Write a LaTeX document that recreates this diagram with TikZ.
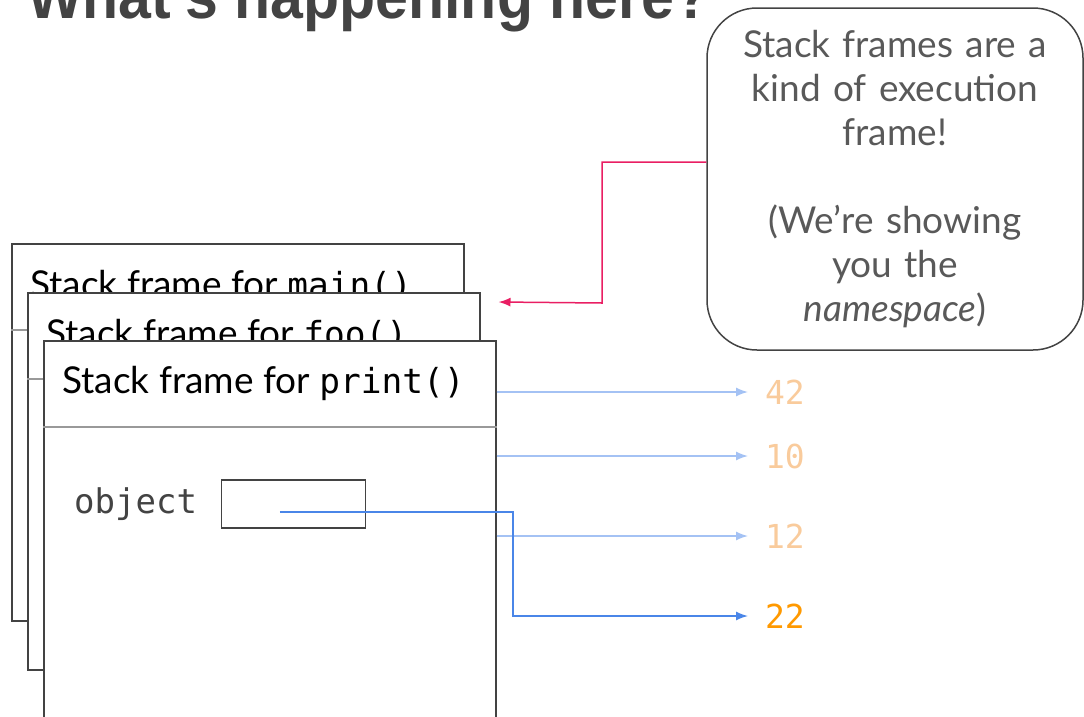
\documentclass[tikz,border=0pt]{standalone}
\usepackage{fontspec}
\usepackage{graphicx}
\setmainfont{Lato}
\setmonofont{DejaVu Sans Mono}
\newfontfamily\titlefont{Liberation Sans}
\usetikzlibrary{arrows.meta, positioning, calc}
\definecolor{framegray}{HTML}{434343}
\definecolor{sepgray}{HTML}{999999}
\definecolor{notegray}{HTML}{595959}
\definecolor{lightblue}{HTML}{A4C2F4}
\definecolor{ptrblue}{HTML}{4A86E8}
\definecolor{peach}{HTML}{F9CB9C}
\definecolor{orange}{HTML}{FF9900}
\definecolor{pink}{HTML}{E91E63}
\newcommand{\fncode}[1]{{\ttfamily\fontsize{34.5}{34.5}\selectfont #1}}
\tikzset{
	stackframe/.style={rectangle, draw=framegray, fill=white, line width=1.5pt, minimum width=452pt, minimum height=377pt, anchor=north west, inner sep=0pt},
	header/.style={anchor=west, inner sep=0pt, font=\fontsize{37}{37}\selectfont},
	headsep/.style={draw=sepgray, line width=1.5pt},
	valnode/.style={anchor=west, inner sep=0pt, outer sep=17pt, font=\ttfamily\fontsize{33}{33}\selectfont},
	callout/.style={rectangle, draw=framegray, line width=1.5pt, rounded corners=50pt, minimum width=376pt, minimum height=342pt, text width=366pt, align=center, text=notegray, font=\fontsize{37}{44}\selectfont},
	ptr/.style={draw, line width=1.5pt, -{Latex[length=12pt, width=9pt]}}
}

\begin{document}
\begin{tikzpicture}[x=1pt, y=-1pt]
	\useasboundingbox (0,0) rectangle (1084,716);
	\clip (0,0) rectangle (1084,716);
	% Title, cut off at the top
	\node[anchor=base west, inner sep=0pt, text=framegray] (title) at (27,18) {\resizebox{683pt}{\height}{\titlefont\bfseries\fontsize{64}{64}\selectfont What's happening here?}};

	% Stack frames
	\node[stackframe] (main) at (11,243) {};
	\node[header] (mainhead) at ($(main.north west)+(19,43)$) {Stack frame for \fncode{main()}};
	\draw[headsep] ($(main.north west)+(0,87)$) -- ($(main.north east)+(0,87)$);

	\node[stackframe] (foo) at (27,292) {};
	\node[header] (foohead) at ($(foo.north west)+(19,43)$) {Stack frame for \fncode{foo()}};
	\draw[headsep] ($(foo.north west)+(0,87)$) -- ($(foo.north east)+(0,87)$);

	\node[stackframe] (print) at (43,340) {};
	\node[header] (printhead) at ($(print.north west)+(19,43)$) {Stack frame for \fncode{print()}};
	\draw[headsep] ($(print.north west)+(0,87)$) -- ($(print.north east)+(0,87)$);

	% Variable inside print()
	\node[anchor=west, inner sep=0pt, text=framegray, font=\ttfamily\fontsize{34}{34}\selectfont] (objlabel) at (74,504) {object};
	\node[draw=framegray, line width=1.2pt, minimum width=144pt, minimum height=48pt, right=24pt of objlabel] (objbox) {};

	% Values
	\node[valnode, text=peach] (v42) at (748,392) {42};
	\node[valnode, text=peach] (v10) at (748,456) {10};
	\node[valnode, text=peach] (v12) at (748,536) {12};
	\node[valnode, text=orange] (v22) at (748,616) {22};

	\draw[ptr, lightblue] (print.east |- v42) -- (v42.west);
	\draw[ptr, lightblue] (print.east |- v10) -- (v10.west);
	\draw[ptr, lightblue] (print.east |- v12) -- (v12.west);

	\coordinate (objstart) at ($(objbox.center)+(-14,8)$);
	\coordinate (objbend) at (513,616);
	\draw[ptr, ptrblue] (objstart) -| (objbend) -- (v22.west);

	% Note
	\node[callout] (callout) at (895,179) {Stack frames are a\\kind of execution\\frame!\\[44pt](We’re showing\\you the\\\textit{namespace})};
	\coordinate (nstip) at ($(foo.north east)+(18,10)$);
	\draw[ptr, pink] ($(callout.west)+(0,-17)$) -| (602,303) -- (nstip);
\end{tikzpicture}
\end{document}
